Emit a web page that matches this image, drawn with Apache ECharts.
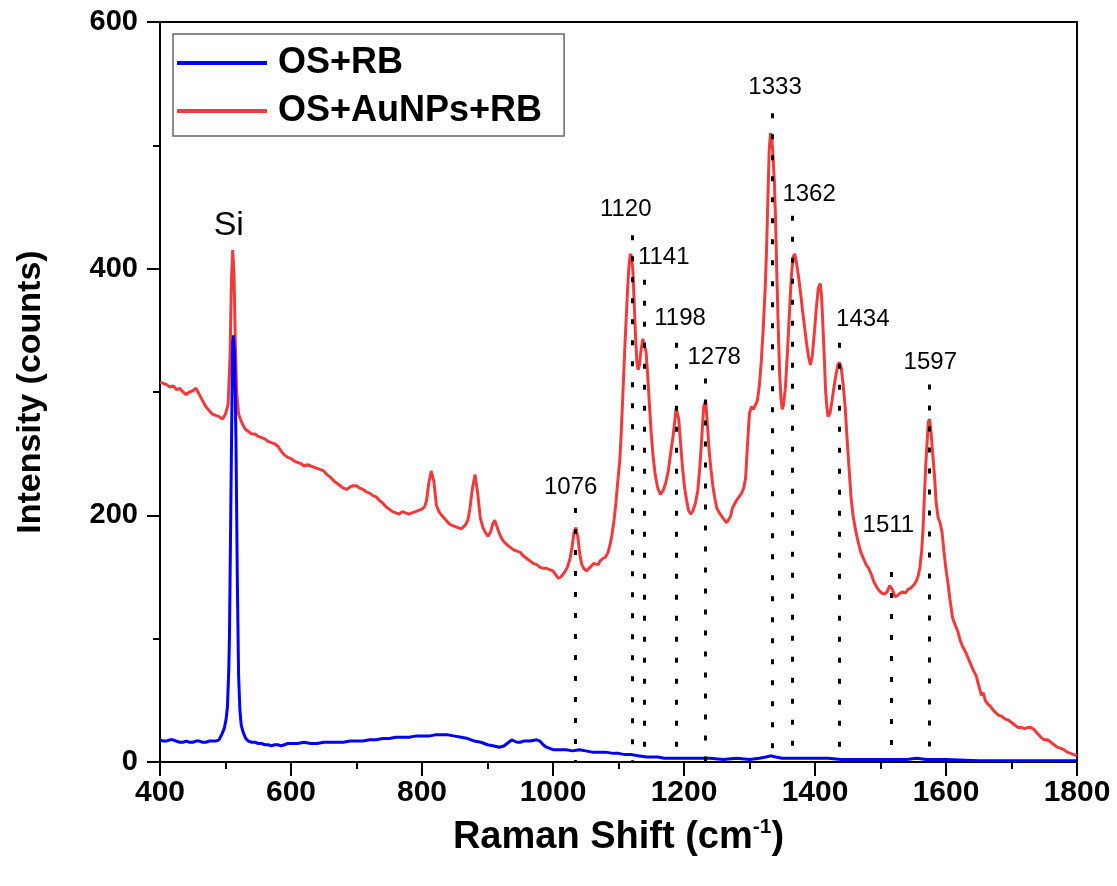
<!DOCTYPE html>
<html>
<head>
<meta charset="utf-8">
<script src="https://cdn.jsdelivr.net/npm/echarts@6/dist/echarts.min.js"></script>
<style>
html,body{margin:0;padding:0;background:#fff;}
#chart{width:1117px;height:886px;}
</style>
</head>
<body>
<div id="chart"></div>
<script>
// ---- data ----
const seriesNames = ['OS+RB', 'OS+AuNPs+RB'];

const redSpectrum = [
[400,308],[405,307],[410,306],[415,304],[420,305],[425,302],[430,303],[435,300],[440,298],[445,300],[450,301],[455,303],[460,298],[465,293],[470,288],[475,285],[480,282],[485,281],[490,280],[495,278],[500,282],[504,290],[507,330],[509,390],[511,415],[513,395],[515,340],[517,300],[520,282],
[525,275],[530,270],[535,268],[540,266],[545,266],[550,264],[555,263],[560,262],[565,260],[570,259],[575,258],[580,256],[585,252],[590,249],[595,247],[600,246],[605,244],[610,243],[615,242],[620,240],[625,241],[630,240],[635,239],[640,238],[645,237],[650,236],[655,233],[660,231],[665,228],[670,226],[675,224],[680,222],[685,221],[690,223],[695,224],[700,224],[705,222],[710,221],[715,219],[720,218],[725,216],[730,215],[735,212],[740,210],[745,207],[750,205],[755,203],[760,202],[765,201],[770,203],[775,202],[780,201],[785,202],[790,203],[795,204],[800,205],[804,207],[807,212],[810,225],[814,236],[818,228],[822,208],[826,203],[830,200],[835,197],[840,194],[845,192],[850,191],[855,190],[860,189],[866,192],[870,196],[873,205],[877,222],[881,233],[885,218],[889,198],[893,190],[897,186],[901,183],[905,187],[908,193],[911,196],[915,190],[919,184],[922,181],[926,178],[930,176],[935,174],[940,172],[945,171],[950,170],[955,167],[960,165],[965,163],[970,161],[975,160],[980,158],[985,157],[990,157],[995,156],[1000,155],[1004,152],[1008,149],[1012,150],[1015,152],[1019,155],[1022,158],[1026,165],[1029,174],[1032,186],[1035,190],[1038,182],[1041,168],[1044,160],[1047,157],[1051,155],[1055,157],[1058,158],[1062,161],[1065,162],[1069,160],[1072,163],[1076,165],[1080,166],[1084,170],[1087,176],[1090,184],[1093,195],[1096,210],[1099,228],[1102,245],[1104,265],[1106,290],[1108,315],[1110,340],[1112,362],[1114,385],[1116,402],[1118,412],[1120,410],[1122,398],[1124,372],[1126,345],[1128,325],[1130,318],[1132,322],[1134,332],[1137,343],[1140,342],[1142,333],[1144,318],[1147,292],[1150,266],[1153,247],[1156,233],[1160,222],[1164,217],[1168,220],[1172,226],[1176,236],[1180,252],[1183,263],[1186,277],[1188,287],[1190,288],[1192,278],[1195,257],[1198,237],[1201,222],[1204,212],[1207,204],[1210,201],[1213,203],[1217,209],[1221,220],[1224,238],[1227,262],[1230,288],[1233,293],[1236,272],[1238,255],[1241,238],[1244,224],[1247,214],[1250,206],[1254,202],[1258,199],[1262,196],[1265,194],[1268,193],[1271,199],[1274,206],[1277,209],[1280,212],[1284,215],[1288,218],[1291,222],[1294,230],[1297,258],[1300,283],[1303,288],[1306,286],[1309,286],[1312,293],[1315,305],[1318,325],[1321,352],[1324,385],[1326,415],[1328,455],[1330,495],[1332,510],[1334,507],[1336,490],[1338,470],[1340,435],[1342,390],[1344,350],[1346,315],[1348,295],[1350,286],[1352,290],[1355,305],[1358,333],[1361,365],[1364,395],[1367,410],[1369,412],[1372,404],[1375,393],[1378,380],[1381,366],[1384,353],[1387,340],[1390,329],[1393,322],[1396,330],[1399,348],[1402,368],[1405,384],[1408,388],[1410,378],[1412,355],[1414,330],[1416,303],[1418,288],[1420,280],[1423,283],[1426,293],[1429,304],[1432,314],[1435,322],[1437,324],[1440,320],[1443,306],[1446,288],[1449,262],[1452,238],[1455,215],[1458,200],[1462,188],[1466,178],[1470,170],[1474,165],[1478,160],[1482,157],[1486,152],[1490,146],[1494,142],[1498,139],[1502,137],[1506,136],[1510,138],[1514,143],[1518,140],[1522,134],[1526,135],[1530,137],[1534,138],[1538,137],[1542,140],[1546,141],[1550,143],[1554,146],[1557,150],[1560,157],[1563,172],[1565,190],[1567,215],[1569,240],[1571,258],[1573,276],[1575,278],[1577,268],[1579,255],[1582,235],[1585,210],[1588,198],[1591,194],[1594,186],[1597,170],[1600,156],[1603,145],[1606,132],[1610,117],[1614,111],[1618,106],[1622,98],[1626,93],[1630,89],[1634,84],[1638,79],[1642,74],[1646,70],[1650,62],[1654,54],[1657,56],[1660,50],[1664,47],[1668,45],[1672,42],[1676,40],[1680,38],[1685,37],[1690,35],[1695,34],[1700,32],[1705,30],[1710,28],[1715,28],[1720,27],[1725,28],[1730,28],[1735,26],[1740,23],[1745,20],[1750,18],[1755,18],[1760,16],[1765,14],[1770,12],[1775,11],[1780,10],[1785,8],[1790,7],[1795,6],[1800,5]
];

const blueSpectrum = [
[400,18],[405,17],[410,17],[415,18],[420,18],[425,17],[430,16],[435,16],[440,17],[445,16],[450,16],[455,17],[460,17],[465,16],[470,16],[475,17],[480,17],[485,17],[490,18],[494,22],[498,27],[501,35],[503,45],[505,75],[506,100],[508,200],[510,300],[511,340],[512,346],[514,330],[516,260],[518,150],[520,70],[522,42],[524,30],[527,24],[531,19],[535,17],[540,16],[545,16],[550,15],[555,15],[560,14],[565,14],[570,13],[575,14],[580,14],[585,13],[590,14],[595,15],[600,15],[610,15],[620,16],[630,15],[640,15],[650,16],[660,16],[670,16],[680,16],[690,17],[700,17],[710,17],[720,18],[730,18],[740,19],[750,19],[760,20],[770,20],[780,20],[790,21],[800,21],[810,21],[820,22],[830,22],[840,22],[850,21],[860,20],[870,19],[880,17],[890,16],[900,14],[910,13],[918,12],[925,13],[930,15],[937,18],[945,16],[950,16],[955,17],[965,17],[975,18],[980,17],[985,14],[990,12],[995,11],[1000,10],[1010,10],[1020,10],[1030,9],[1040,10],[1050,9],[1060,8],[1067,8],[1080,8],[1092,7],[1100,7],[1110,6],[1120,6],[1130,5],[1143,4],[1160,4],[1170,3],[1180,3],[1200,3],[1220,3],[1240,3],[1260,2],[1280,3],[1300,2],[1315,3],[1325,4],[1332,5],[1340,4],[1350,3],[1360,3],[1380,3],[1400,3],[1420,3],[1440,2],[1460,2],[1480,2],[1500,2],[1520,2],[1540,2],[1555,3],[1570,2],[1600,2],[1650,1],[1700,1],[1750,1],[1800,1]
];

// peak annotations: label text, dotted line position (x), dotted line top (y), label centre (x, y)
const peakLabels  = ['1076','1120','1141','1198','1278','1333','1362','1434','1511','1597'];
const peakLineX   = [1034, 1121, 1139, 1188, 1232, 1334, 1366, 1437, 1517, 1574];
const peakLineTop = [206, 427, 391, 340, 311, 526, 443, 340, 154, 306];
const peakLabelX  = [1027, 1111, 1169, 1194, 1246, 1339, 1391, 1473, 1512, 1576];
const peakLabelY  = [223, 448, 409, 360, 328, 547, 460, 359, 192, 324];

const siLabel = {text: 'Si', x: 505, y: 435};

const xTicks = {min: 400, max: 1800, interval: 200};
const yTicks = {min: 0, max: 600, interval: 200};

// ---- chart ----
const chart = echarts.init(document.getElementById('chart'), null, {renderer: 'canvas'});
const FONT = '"Liberation Sans", Arial, sans-serif';

const markLineData = peakLineX.map((x, i) => [
  {coord: [x, peakLineTop[i]]},
  {coord: [x, 0]}
]);

const labelData = peakLabels.map((t, i) => ({name: t, value: [peakLabelX[i], peakLabelY[i]]}));

const option = {
  backgroundColor: '#fff',
  animation: false,
  grid: {
    left: 160, right: 40, top: 22, bottom: 124,
    show: true, borderColor: '#000', borderWidth: 2, backgroundColor: 'transparent'
  },
  legend: {
    data: seriesNames,
    orient: 'vertical',
    left: 173, top: 34,
    icon: 'rect',
    itemWidth: 90, itemHeight: 4, itemGap: 10,
    padding: [10, 22, 6, 4],
    borderColor: '#666', borderWidth: 1.5,
    textStyle: {fontFamily: FONT, fontWeight: 'bold', fontSize: 36, color: '#000', padding: [0, 0, 0, 6], lineHeight: 38}
  },
  xAxis: {
    type: 'value',
    min: xTicks.min, max: xTicks.max, interval: xTicks.interval,
    name: '{a|Raman Shift (cm}{s|-1}{a|)}',
    nameLocation: 'middle', nameGap: 55,
    nameTextStyle: {
      rich: {
        a: {fontFamily: FONT, fontWeight: 'bold', fontSize: 38, color: '#000'},
        s: {fontFamily: FONT, fontWeight: 'bold', fontSize: 21, color: '#000', padding: [0, 0, 20, 0]}
      }
    },
    axisLine: {onZero: false, lineStyle: {color: '#000', width: 2}},
    axisTick: {show: true, inside: false, length: 14, lineStyle: {color: '#000', width: 2}},
    minorTick: {show: true, splitNumber: 2, length: 7, lineStyle: {color: '#000', width: 2}},
    axisLabel: {fontFamily: FONT, fontWeight: 'bold', fontSize: 30, color: '#000', margin: 16, formatter: v => String(v)},
    splitLine: {show: false}
  },
  yAxis: {
    type: 'value',
    min: yTicks.min, max: yTicks.max, interval: yTicks.interval,
    name: 'Intensity (counts)',
    nameLocation: 'middle', nameGap: 112,
    nameTextStyle: {fontFamily: FONT, fontWeight: 'bold', fontSize: 34, color: '#000'},
    axisLine: {onZero: false, lineStyle: {color: '#000', width: 2}},
    axisTick: {show: true, inside: false, length: 13, lineStyle: {color: '#000', width: 2}},
    minorTick: {show: true, splitNumber: 2, length: 7, lineStyle: {color: '#000', width: 2}},
    axisLabel: {fontFamily: FONT, fontWeight: 'bold', fontSize: 29, color: '#000', margin: 22, formatter: v => String(v)},
    splitLine: {show: false}
  },
  series: [
    {
      name: 'OS+AuNPs+RB',
      type: 'line',
      data: redSpectrum,
      symbol: 'none',
      color: '#ef3b3b',
      lineStyle: {color: '#ef3b3b', width: 3},
      z: 2,
      markLine: {
        silent: true,
        symbol: ['none', 'none'],
        label: {show: false},
        lineStyle: {color: '#000', width: 3, type: [5, 16]},
        data: markLineData,
        animation: false
      }
    },
    {
      name: 'OS+RB',
      type: 'line',
      data: blueSpectrum,
      symbol: 'none',
      color: '#0000ff',
      lineStyle: {color: '#0000ff', width: 3},
      z: 3
    },
    {
      name: 'peakLabels',
      type: 'scatter',
      data: labelData,
      symbolSize: 0,
      silent: true,
      z: 5,
      itemStyle: {opacity: 1},
      label: {
        show: true, position: 'inside', formatter: '{b}', opacity: 1,
        fontFamily: FONT, fontSize: 24, color: '#000', textBorderWidth: 0
      }
    },
    {
      name: 'siLabel',
      type: 'scatter',
      data: [{name: siLabel.text, value: [siLabel.x, siLabel.y]}],
      symbolSize: 0,
      silent: true,
      z: 5,
      itemStyle: {opacity: 1},
      label: {
        show: true, position: 'inside', formatter: '{b}', opacity: 1,
        fontFamily: FONT, fontSize: 34, color: '#000', textBorderWidth: 0
      }
    }
  ]
};
chart.setOption(option);
</script>
</body>
</html>
